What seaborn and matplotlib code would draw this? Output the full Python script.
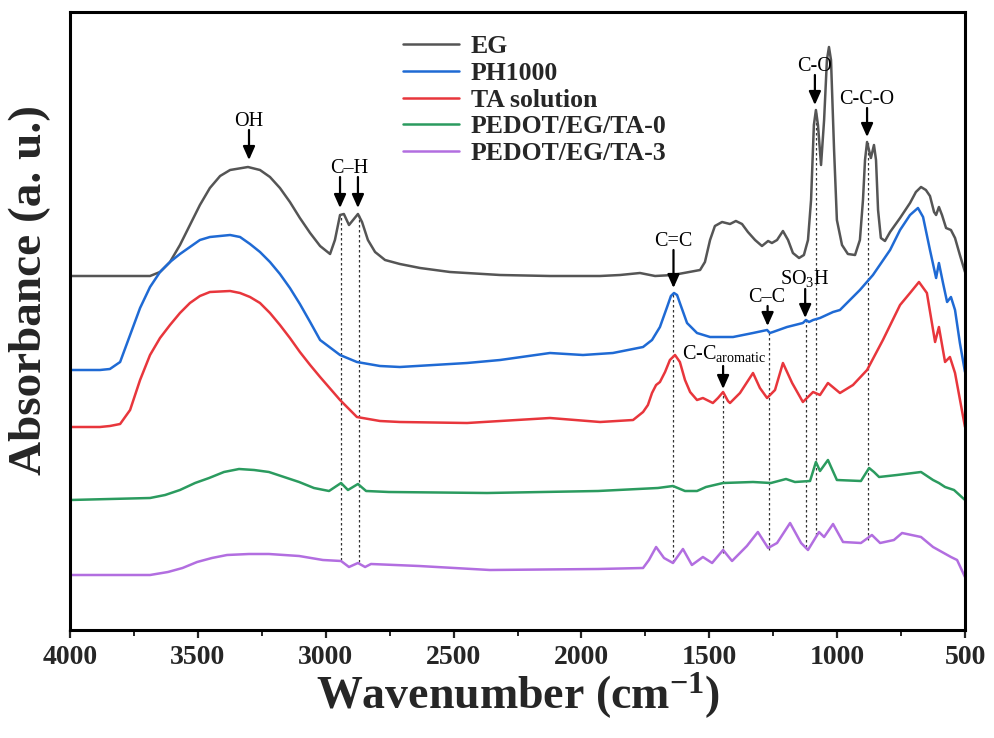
import numpy as np
import pandas as pd
import matplotlib
matplotlib.use("Agg")
import matplotlib.pyplot as plt
import seaborn as sns
from matplotlib.lines import Line2D
from matplotlib.ticker import MultipleLocator

sns.set_style("ticks")
plt.rcParams["font.family"] = ["Liberation Serif", "DejaVu Serif"]
plt.rcParams["mathtext.fontset"] = "custom"
plt.rcParams["mathtext.rm"] = "Liberation Serif"
plt.rcParams["mathtext.it"] = "Liberation Serif:italic"
plt.rcParams["mathtext.bf"] = "Liberation Serif:bold"
plt.rcParams["mathtext.default"] = "regular"

# ---------------- data (wavenumber cm-1, absorbance a.u., offset stacked) -------------
samples = ["EG", "PH1000", "TA solution", "PEDOT/EG/TA-0", "PEDOT/EG/TA-3"]
colors = ["#555555", "#1f6ad4", "#e8363c", "#2b9b5f", "#b26ee0"]

eg_wn = [4000, 3883, 3687, 3648, 3609, 3570, 3531, 3492, 3453, 3413,
         3374, 3304, 3257, 3218, 3179, 3140, 3101, 3061, 3022, 2983,
         2964, 2944, 2929, 2909, 2893, 2874, 2858, 2835, 2807, 2768,
         2710, 2631, 2514, 2318, 2123, 1927, 1849, 1771, 1712, 1642,
         1536, 1517, 1497, 1478, 1450, 1419, 1396, 1372, 1349, 1321,
         1294, 1270, 1255, 1235, 1212, 1192, 1173, 1149, 1130, 1114,
         1102, 1091, 1083, 1075, 1063, 1051, 1040, 1032, 1024, 1012,
         1001, 981, 958, 930, 911, 899, 891, 883, 868, 856,
         848, 840, 829, 813, 793, 754, 715, 692, 672, 653,
         637, 621, 613, 602, 590, 574, 555, 539, 520, 500]
eg_a = [3.54, 3.54, 3.54, 3.58, 3.68, 3.85, 4.05, 4.25, 4.42, 4.54,
        4.60, 4.63, 4.60, 4.53, 4.42, 4.28, 4.12, 3.97, 3.84, 3.76,
        3.90, 4.15, 4.16, 4.05, 4.10, 4.16, 4.08, 3.90, 3.78, 3.70,
        3.66, 3.62, 3.58, 3.55, 3.54, 3.54, 3.55, 3.57, 3.54, 3.55,
        3.60, 3.68, 3.90, 4.04, 4.08, 4.06, 4.09, 4.06, 3.98, 3.90,
        3.84, 3.89, 3.87, 3.90, 3.99, 3.90, 3.77, 3.72, 3.75, 3.90,
        4.30, 5.05, 5.20, 5.05, 4.65, 5.10, 5.70, 5.83, 5.70, 4.80,
        4.10, 3.85, 3.76, 3.75, 3.90, 4.30, 4.70, 4.88, 4.72, 4.85,
        4.70, 4.20, 3.92, 3.89, 3.98, 4.12, 4.27, 4.38, 4.43, 4.40,
        4.34, 4.18, 4.15, 4.23, 4.15, 4.02, 4.00, 3.92, 3.75, 3.58]

ph_wn = [4000, 3883, 3844, 3804, 3765, 3726, 3687, 3648, 3609, 3570,
         3531, 3492, 3453, 3374, 3335, 3296, 3257, 3218, 3179, 3140,
         3101, 3061, 3022, 2944, 2878, 2788, 2710, 2447, 2318, 2123,
         1994, 1877, 1759, 1724, 1693, 1665, 1650, 1638, 1626, 1615,
         1587, 1548, 1497, 1407, 1329, 1274, 1263, 1251, 1196, 1134,
         1122, 1110, 1094, 1067, 1016, 989, 950, 911, 860, 793,
         754, 715, 684, 664, 637, 613, 602, 586, 570, 555,
         539, 520, 500]
ph_a = [2.60, 2.60, 2.61, 2.68, 2.95, 3.22, 3.43, 3.58, 3.68, 3.76,
        3.83, 3.90, 3.93, 3.95, 3.93, 3.86, 3.78, 3.68, 3.56, 3.42,
        3.26, 3.08, 2.90, 2.75, 2.68, 2.64, 2.63, 2.67, 2.70, 2.77,
        2.75, 2.77, 2.83, 2.90, 3.03, 3.23, 3.34, 3.37, 3.35, 3.27,
        3.07, 2.97, 2.93, 2.93, 2.97, 3.00, 2.97, 2.98, 3.03, 3.07,
        3.10, 3.08, 3.10, 3.12, 3.18, 3.20, 3.30, 3.40, 3.55, 3.80,
        4.00, 4.15, 4.22, 4.13, 3.80, 3.52, 3.67, 3.47, 3.28, 3.33,
        3.20, 2.87, 2.58]

ta_wn = [4000, 3883, 3844, 3804, 3765, 3726, 3687, 3648, 3609, 3570,
         3531, 3492, 3453, 3374, 3335, 3296, 3257, 3218, 3179, 3140,
         3101, 3061, 3022, 2944, 2878, 2788, 2710, 2447, 2123, 1927,
         1798, 1759, 1740, 1724, 1708, 1693, 1673, 1654, 1634, 1615,
         1595, 1575, 1548, 1525, 1486, 1466, 1446, 1427, 1419, 1380,
         1329, 1302, 1274, 1243, 1212, 1176, 1134, 1094, 1067, 1036,
         989, 938, 883, 821, 754, 715, 680, 649, 617, 602,
         578, 559, 539, 500]
ta_a = [2.03, 2.03, 2.04, 2.06, 2.20, 2.50, 2.75, 2.92, 3.05, 3.17,
        3.27, 3.34, 3.38, 3.39, 3.37, 3.33, 3.27, 3.17, 3.05, 2.92,
        2.78, 2.65, 2.53, 2.30, 2.13, 2.09, 2.08, 2.07, 2.12, 2.08,
        2.10, 2.18, 2.25, 2.37, 2.45, 2.48, 2.58, 2.70, 2.75, 2.68,
        2.50, 2.38, 2.30, 2.32, 2.27, 2.32, 2.38, 2.29, 2.27, 2.37,
        2.57, 2.42, 2.32, 2.40, 2.67, 2.47, 2.28, 2.38, 2.35, 2.47,
        2.37, 2.45, 2.60, 2.90, 3.25, 3.37, 3.48, 3.37, 2.88, 3.03,
        2.68, 2.73, 2.57, 2.03]

t0_wn = [4000, 3687, 3628, 3570, 3511, 3456, 3398, 3339, 3280, 3222,
         3163, 3104, 3046, 2987, 2940, 2913, 2874, 2842, 2753, 2369,
         1935, 1701, 1642, 1595, 1548, 1513, 1446, 1329, 1259, 1200,
         1165, 1106, 1083, 1067, 1036, 1001, 907, 875, 856, 836,
         766, 672, 625, 602, 578, 543, 500]
t0_a = [1.30, 1.32, 1.35, 1.40, 1.47, 1.52, 1.58, 1.61, 1.60, 1.58,
        1.53, 1.48, 1.42, 1.39, 1.47, 1.40, 1.46, 1.39, 1.38, 1.37,
        1.39, 1.42, 1.44, 1.39, 1.39, 1.43, 1.47, 1.48, 1.47, 1.51,
        1.48, 1.49, 1.68, 1.59, 1.70, 1.50, 1.49, 1.62, 1.58, 1.53,
        1.55, 1.58, 1.50, 1.47, 1.43, 1.40, 1.30]

t3_wn = [4000, 3687, 3617, 3560, 3503, 3445, 3386, 3300, 3222, 3104,
         3011, 2940, 2909, 2874, 2846, 2823, 2635, 2358, 1935, 1759,
         1736, 1708, 1677, 1642, 1603, 1568, 1525, 1489, 1446, 1411,
         1353, 1310, 1270, 1235, 1184, 1141, 1114, 1071, 1051, 1016,
         977, 907, 864, 832, 778, 746, 672, 625, 590, 555,
         531, 500]
t3_a = [0.55, 0.55, 0.58, 0.62, 0.68, 0.72, 0.75, 0.76, 0.76, 0.74,
        0.70, 0.69, 0.63, 0.67, 0.63, 0.66, 0.64, 0.60, 0.61, 0.62,
        0.70, 0.83, 0.72, 0.67, 0.81, 0.65, 0.73, 0.67, 0.80, 0.69,
        0.84, 0.98, 0.82, 0.87, 1.07, 0.87, 0.80, 0.98, 0.93, 1.06,
        0.88, 0.87, 0.95, 0.87, 0.90, 0.97, 0.93, 0.83, 0.78, 0.73,
        0.70, 0.53]

# marker lines: wavenumber, top, bottom
mark_wn = [2940, 2870, 1640, 1446, 1268, 1122, 1083, 880]
mark_top = [4.15, 4.15, 3.37, 2.38, 2.98, 3.10, 5.20, 4.88]
mark_bot = [0.70, 0.68, 0.68, 0.77, 0.80, 0.83, 0.95, 0.90]

# annotations: label, text x, text baseline y, arrow x list, arrow tail y, arrow tip y
ann_labels = ["OH", "C\u2013H", "C=C", "C\u2013C", "SO$_3$H", "C-C$_{aromatic}$", "C-O", "C-C-O"]
ann_tx = [3300, 2909, 1642, 1274, 1128, 1440, 1087, 883]
ann_ty = [5.04, 4.57, 3.84, 3.28, 3.46, 2.71, 5.59, 5.26]
ann_ax = [[3300], [2944, 2874], [1640], [1272], [1125], [1446], [1087], [883]]
ann_tail = [5.00, 4.53, 3.80, 3.24, 3.41, 2.64, 5.55, 5.22]
ann_tip = [4.70, 4.22, 3.42, 3.04, 3.12, 2.41, 5.25, 4.93]

# ---------------- build table ----------------
series = [(eg_wn, eg_a), (ph_wn, ph_a), (ta_wn, ta_a), (t0_wn, t0_a), (t3_wn, t3_a)]
frames = []
for name, (w, a) in zip(samples, series):
    frames.append(pd.DataFrame({"wn": w, "a": a, "sample": name}))
df = pd.concat(frames, ignore_index=True)

fig = plt.figure(figsize=(9.95, 7.38), dpi=100)
ax = fig.add_axes([70 / 995, 1 - 630 / 738, 895 / 995, 618 / 738])

sns.lineplot(data=df, x="wn", y="a", hue="sample", hue_order=samples,
             palette=colors, estimator=None, sort=True, lw=1.8,
             legend=False, ax=ax)

ax.vlines(mark_wn, mark_bot, mark_top, colors="#333333", lw=0.9,
          linestyles=(0, (2.0, 2.0)), zorder=1)

for lab, tx, ty, axs, tl, tp in zip(ann_labels, ann_tx, ann_ty, ann_ax, ann_tail, ann_tip):
    ax.text(tx, ty, lab, ha="center", va="baseline", fontsize=14.5, color="black")
    for xx in axs:
        ax.annotate("", xy=(xx, tp), xytext=(xx, tl),
                    arrowprops=dict(arrowstyle="-|>,head_length=0.45,head_width=0.2",
                                    color="black", lw=1.6, shrinkA=0, shrinkB=0,
                                    mutation_scale=18))

ax.set_xlim(4000, 500)
ax.set_ylim(0, 6.18)
ax.xaxis.set_major_locator(MultipleLocator(500))
ax.xaxis.set_minor_locator(MultipleLocator(250))
ax.set_yticks([])
ax.tick_params(axis="x", which="major", direction="out", length=6, width=1.6,
               labelsize=20, pad=5)
ax.tick_params(axis="x", which="minor", direction="out", length=4, width=1.4)
for lbl in ax.get_xticklabels():
    lbl.set_fontweight("bold")
for sp in ax.spines.values():
    sp.set_linewidth(2.2)
    sp.set_color("black")
    sp.set_visible(True)

ax.set_xlabel("Wavenumber (cm$^{-1}$)", fontsize=33, fontweight="bold", labelpad=0)
ax.set_ylabel("Absorbance (a. u.)", fontsize=34, fontweight="bold")
ax.yaxis.set_label_coords(-0.021, 0.55)

handles = [Line2D([0], [0], color=c, lw=1.8) for c in colors]
leg = ax.legend(handles, samples, loc="upper left", bbox_to_anchor=(0.372, 0.963),
                frameon=False, borderpad=0, borderaxespad=0, handlelength=2.2,
                handletextpad=0.45, labelspacing=0.15,
                prop={"family": "Liberation Serif", "weight": "bold", "size": 18.5})

fig.savefig("out.png", dpi=100)
